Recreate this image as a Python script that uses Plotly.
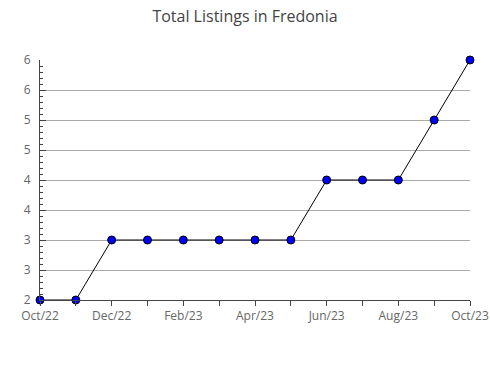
import plotly.graph_objects as go

months = ["Oct/22", "Nov/22", "Dec/22", "Jan/23", "Feb/23", "Mar/23", "Apr/23",
          "May/23", "Jun/23", "Jul/23", "Aug/23", "Sep/23", "Oct/23"]
listings = [2, 2, 3, 3, 3, 3, 3, 3, 4, 4, 4, 5, 6]
y_tickvals = [2, 2.5, 3, 3.5, 4, 4.5, 5, 5.5, 6]
y_ticktext = ["2", "3", "3", "4", "4", "5", "5", "6", "6"]

x_idx = list(range(len(months)))
x_tickvals = x_idx
x_ticktext = [m if i % 2 == 0 else "" for i, m in enumerate(months)]

fig = go.Figure()
fig.add_trace(go.Scatter(
    x=x_idx, y=listings, mode="lines+markers",
    line=dict(color="black", width=1),
    marker=dict(color="#0000ff", size=8, line=dict(color="black", width=1)),
    cliponaxis=False, hoverinfo="skip",
))

fig.update_layout(
    width=490, height=380,
    margin=dict(l=40, r=20, t=60, b=80),
    paper_bgcolor="white", plot_bgcolor="white",
    showlegend=False,
    font=dict(family="Open Sans, DejaVu Sans, sans-serif", size=12, color="#555"),
    title=dict(text="Total Listings in Fredonia", x=0.5, xanchor="center",
               y=1 - 16 / 380, yanchor="middle",
               font=dict(size=16, color="#444")),
    xaxis=dict(range=[0, 12], tickvals=x_tickvals, ticktext=x_ticktext,
               automargin=False,
               showgrid=False, zeroline=False, showline=True, linecolor="#444",
               linewidth=1, ticks="outside", ticklen=5, tickcolor="#444",
               tickfont=dict(size=12, color="#666")),
    yaxis=dict(range=[2, 6], tickvals=y_tickvals, ticktext=y_ticktext,
               automargin=False, ticklabelstandoff=6,
               showgrid=True, gridcolor="#aaaaaa", gridwidth=1,
               zeroline=False, showline=True, linecolor="#444", linewidth=1,
               ticks="inside", ticklen=6, tickcolor="#444",
               minor=dict(dtick=0.1, tick0=2, ticks="inside", ticklen=3,
                          tickcolor="#444", showgrid=False),
               tickfont=dict(size=12, color="#666")),
)

fig.write_html("out.html")
